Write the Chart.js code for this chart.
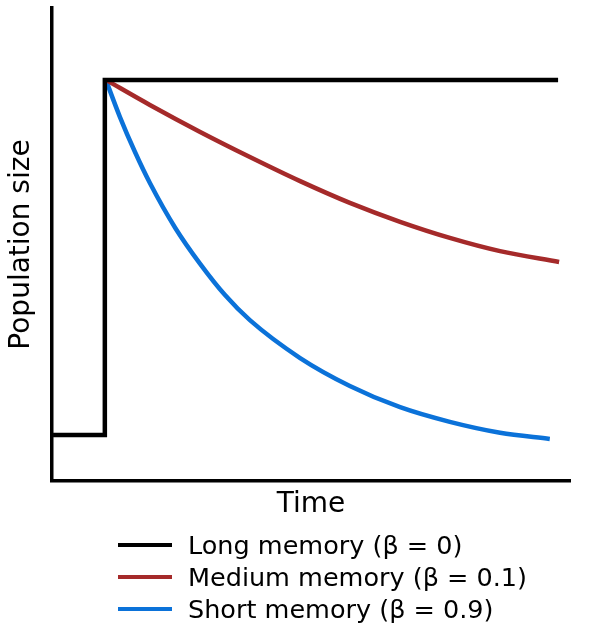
<!DOCTYPE html>
<html>
<head>
<meta charset="utf-8">
<script src="https://cdn.jsdelivr.net/npm/chart.js@4.4.1/dist/chart.umd.min.js"></script>
<style>
    body { margin: 0; background: #fff; }
    #wrap { position: relative; width: 603px; height: 633px; }
    #legend { position: absolute; left: 118px; top: 529px; font-family: "DejaVu Sans", sans-serif; font-size: 25.5px; color: #000; }
    .item { display: flex; align-items: center; height: 32px; white-space: nowrap; }
    .swatch { width: 54px; height: 4px; margin-right: 16px; }
</style>
</head>
<body>
<div id="wrap">
    <canvas id="myChart" width="603" height="633"></canvas>
    <div id="legend"></div>
</div>
<script>
// valores (tiempo y tamaño en unidades arbitrarias 0-100)
const labels = ["Long memory (β = 0)", "Medium memory (β = 0.1)", "Short memory (β = 0.9)"];
const colores = ["#000000", "#a52a2a", "#0b72d9"];

const tiempoLargo = [0.2, 10.2, 10.2, 97.7];
const tamanoLargo = [9.7, 9.7, 84.8, 84.8];

const tiempoMedio = [10.4, 18.9, 28.6, 38.2, 47.9, 57.5, 67.2, 76.8, 86.5, 97.9];
const tamanoMedio = [84.8, 79.5, 73.8, 68.5, 63.4, 58.8, 54.8, 51.4, 48.6, 46.3];

const tiempoCorto = [10.4, 13.1, 16.0, 18.9, 23.8, 28.6, 33.4, 38.2, 47.9, 57.5, 67.2, 76.8, 86.5, 96.1];
const tamanoCorto = [84.8, 77.0, 69.6, 63.0, 53.5, 45.9, 39.3, 34.0, 26.0, 20.1, 15.6, 12.5, 10.2, 8.9];

function puntos(xs, ys) {
    return xs.map((x, i) => ({ x: x, y: ys[i] }));
}

const fuente = { family: "DejaVu Sans", size: 28 };

let miCanvas = document.getElementById("myChart").getContext("2d");

var chart = new Chart(miCanvas, {
    type: "line",
    data: {
        datasets: [
            { label: labels[0], data: puntos(tiempoLargo, tamanoLargo), borderColor: colores[0], tension: 0 },
            { label: labels[1], data: puntos(tiempoMedio, tamanoMedio), borderColor: colores[1], cubicInterpolationMode: "monotone" },
            { label: labels[2], data: puntos(tiempoCorto, tamanoCorto), borderColor: colores[2], cubicInterpolationMode: "monotone" }
        ]
    },
    options: {
        responsive: false,
        animation: false,
        layout: { padding: { left: 0, top: 8, right: 33, bottom: 102 } },
        elements: {
            point: { radius: 0 },
            line: { borderWidth: 4.5, fill: false, borderCapStyle: "butt", borderJoinStyle: "miter" }
        },
        plugins: {
            legend: { display: false },
            tooltip: { enabled: false }
        },
        scales: {
            x: {
                type: "linear",
                min: 0,
                max: 100,
                grid: { display: false },
                border: { display: true, color: "#000", width: 3.5 },
                ticks: { display: false },
                title: { display: true, text: "Time", color: "#000", font: fuente, padding: { top: 0, bottom: 9 } },
                afterFit: (s) => { s.height = 50; }
            },
            y: {
                min: 0,
                max: 100,
                grid: { display: false },
                border: { display: true, color: "#000", width: 3.5 },
                ticks: { display: false },
                title: { display: true, text: "Population size", color: "#000", font: fuente, padding: { top: 5, bottom: 0 } },
                afterFit: (s) => { s.width = 52; }
            }
        }
    }
});

// leyenda debajo del grafico
const legend = document.getElementById("legend");
chart.data.datasets.forEach(ds => {
    const item = document.createElement("div");
    item.className = "item";
    const sw = document.createElement("span");
    sw.className = "swatch";
    sw.style.background = ds.borderColor;
    const txt = document.createElement("span");
    txt.textContent = ds.label;
    item.appendChild(sw);
    item.appendChild(txt);
    legend.appendChild(item);
});
</script>
</body>
</html>
